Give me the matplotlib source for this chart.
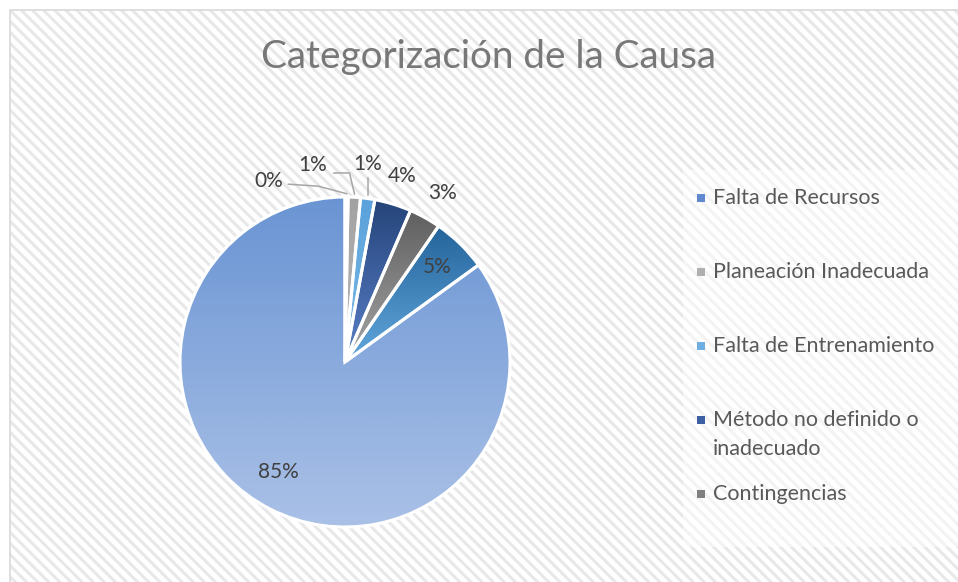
import numpy as np
import matplotlib.pyplot as plt
from matplotlib.patches import Rectangle
from matplotlib.colors import to_rgb

# Data (percentages, clockwise from 12 o'clock)
values = [0.3, 1.2, 1.4, 3.6, 3.1, 5.4, 85.0]
pct_labels = ["0%", "1%", "1%", "4%", "3%", "5%", "85%"]
legend_labels = ["Falta de Recursos", "Planeación Inadecuada",
                 "Falta de Entrenamiento", "Método no definido o\ninadecuado",
                 "Contingencias"]

# Gradient colours per slice (top -> bottom)
top_cols = ["#4472c4", "#a2a2a2", "#5aa2db", "#25447a", "#5f5f5f", "#24649b", "#6a94d3"]
bot_cols = ["#6a93d6", "#bababa", "#7cb9e6", "#5a80c8", "#a6a6a6", "#62a8dd", "#aac1e7"]
legend_cols = ["#5f88cf", "#b0b0b0", "#6eb0e2", "#3c5fa3", "#808080"]

# label placement: radius factor and angle nudge (deg)
lab_dist = [1.19, 1.21, 1.21, 1.18, 1.18, 0.80, 0.78]
lab_shift = [-23.5, -12.5, -1.3, 0.0, 1.0, 0.0, 4.3]

W, H = 958, 582
plt.rcParams['hatch.linewidth'] = 2.2
fig = plt.figure(figsize=(W / 100, H / 100), dpi=100)
ax = fig.add_axes([0, 0, 1, 1])

# striped chart background + border
ax.add_patch(Rectangle((10, -20), 1000, H - 10 + 20, facecolor='white',
                       edgecolor='#e8e8e8', hatch='\\\\\\', linewidth=0, zorder=0))
ax.add_patch(Rectangle((10, -20), 1000, H - 10 + 20, facecolor='none',
                       edgecolor='#d9d9d9', linewidth=1.2, zorder=0.5))
# legend box (lighter)
ax.add_patch(Rectangle((683, H - 547), 300, 377, facecolor='white', alpha=0.5,
                       linewidth=0, zorder=0.6))

font = 'Lato'

cx, cy, r = 345, H - 362, 165
wedges, _ = ax.pie(values, startangle=90, counterclock=False, center=(cx, cy),
                   radius=r, frame=True,
                   wedgeprops=dict(edgecolor='white', linewidth=2.2, facecolor='none'))

for w, c0, c1 in zip(wedges, top_cols, bot_cols):
    w.set_zorder(3)
    ext = w.get_path().get_extents()
    t = np.linspace(0, 1, 256)[:, None, None]
    a, b = np.array(to_rgb(c1)), np.array(to_rgb(c0))
    grad = a[None, None, :] * (1 - t) + b[None, None, :] * t
    im = ax.imshow(grad, extent=(ext.x0, ext.x1, ext.y0, ext.y1), origin='lower',
                   aspect='auto', zorder=2, interpolation='bilinear')
    im.set_clip_path(w)

ax.set_xlim(0, W)
ax.set_ylim(0, H)
ax.axis('off')

ax.text(489, H - 57, "Categorización de la Causa", ha='center', va='center',
        fontsize=27.8, color='#787878', family=font, zorder=6)

# data labels
cum = np.cumsum([0] + values)
tot = sum(values)
lab_pos = []
for i, (lab, d, s) in enumerate(zip(pct_labels, lab_dist, lab_shift)):
    mid = (cum[i] + cum[i + 1]) / 2 / tot * 360 + s
    th = np.deg2rad(mid)
    x = cx + d * r * np.sin(th)
    y = cy + d * r * np.cos(th)
    lab_pos.append((x, y))
    ax.text(x, y, lab, ha='center', va='center', fontsize=15, color='#404040',
            family=font, zorder=5)

# leader lines for the three thin slices
for i in range(3):
    mid = np.deg2rad((cum[i] + cum[i + 1]) / 2 / tot * 360)
    ex, ey = cx + 1.02 * r * np.sin(mid), cy + 1.02 * r * np.cos(mid)
    lx, ly = lab_pos[i]
    if i == 0:
        xs, ys = [lx + 20, lx + 50, ex], [ly - 3, ly - 5, ey]
    elif i == 1:
        xs, ys = [lx + 21, ex - 5, ex], [ly - 8, ly - 8, ey]
    else:
        xs, ys = [ex, ex], [ly - 14, ey]
    ax.plot(xs, ys, color='#a6a6a6', lw=1.1, zorder=4)

# legend
leg_y = [198, 272, 346, 420, 494]
for lab, col, yy in zip(legend_labels, legend_cols, leg_y):
    ax.add_patch(Rectangle((697, H - yy - 4), 8, 8, facecolor=col, edgecolor='none', zorder=5))
    if '\n' in lab:
        ax.text(713, H - yy - 14.5, lab, ha='left', va='center', fontsize=15.5,
                color='#595959', family=font, zorder=5, linespacing=1.52)
    else:
        ax.text(713, H - yy, lab, ha='left', va='center', fontsize=15.5,
                color='#595959', family=font, zorder=5)

fig.savefig('out.png', dpi=100)
